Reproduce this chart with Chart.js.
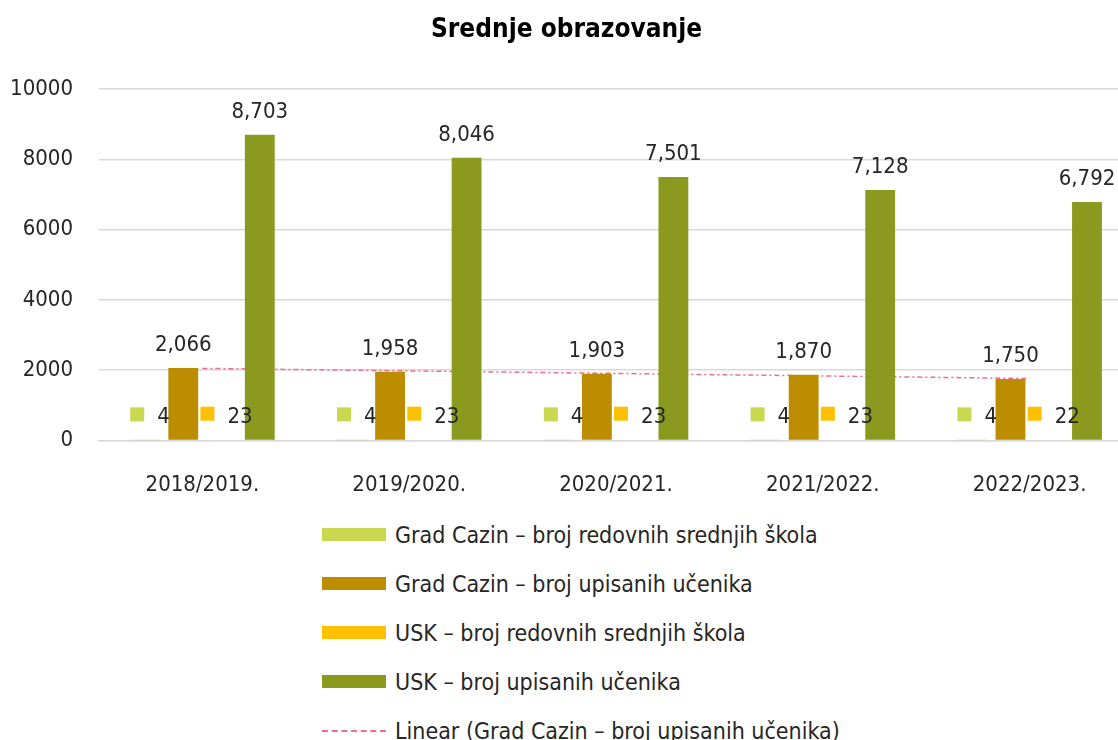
<!DOCTYPE html>
<html lang="bs">
<head>
  <meta charset="UTF-8">
  <title>Srednje obrazovanje</title>
  <script src="https://cdn.jsdelivr.net/npm/chart.js"></script>
  <style>
    body {
      margin: 0;
      background: #fff;
      overflow: hidden;
      font-family: "DejaVu Sans Condensed", "Liberation Sans Narrow", Roboto, sans-serif;
    }
    #chartBox {
      position: absolute;
      left: 0;
      top: 0;
      width: 1133px;
      height: 500px;
    }
    #legend {
      position: absolute;
      left: 322px;
      top: 510px;
      color: #262626;
      font-size: 23px;
    }
    .row {
      height: 49px;
      display: flex;
      align-items: center;
    }
    .key {
      width: 64px;
      height: 13px;
      margin-right: 9px;
    }
    .key.dash {
      height: 0;
      border-top: 2px dashed #ef6d8e;
    }
  </style>
</head>
<body>
  <div id="chartBox">
    <canvas id="chart" width="1133" height="500"></canvas>
  </div>
  <div id="legend"></div>

  <script>
    const FONT = '"DejaVu Sans Condensed", "Liberation Sans Narrow", Roboto, sans-serif';

    // Data
    const years = ['2018/2019.', '2019/2020.', '2020/2021.', '2021/2022.', '2022/2023.'];
    const cazinSchools = [4, 4, 4, 4, 4];
    const cazinPupils = [2066, 1958, 1903, 1870, 1750];
    const uskSchools = [23, 23, 23, 23, 22];
    const uskPupils = [8703, 8046, 7501, 7128, 6792];
    // Linear trend of Cazin pupils
    const cazinTrend = [2053, 1981, 1909, 1837, 1765];
    const yTicks = [0, 2000, 4000, 6000, 8000, 10000];

    const colors = {
      cazinSchools: '#c9d84f',
      cazinPupils: '#bd8d00',
      uskSchools: '#ffc000',
      uskPupils: '#8b9a1e',
      trend: '#ef6d8e'
    };

    // value labels above bars; the small series get a little colour key in front
    const barLabels = {
      id: 'barLabels',
      afterDatasetsDraw(chart) {
        const ctx = chart.ctx;
        ctx.save();
        ctx.font = '22px ' + FONT;
        ctx.fillStyle = '#262626';
        ctx.textBaseline = 'alphabetic';
        chart.data.datasets.forEach((ds, i) => {
          if (ds.type === 'line') return;
          const meta = chart.getDatasetMeta(i);
          meta.data.forEach((bar, j) => {
            const txt = ds.data[j].toLocaleString('en-US');
            const y = bar.y - 17;
            if (ds.withKey) {
              const w = ctx.measureText(txt).width;
              const group = 14 + 13 + w;
              const x0 = bar.x + 5 - group / 2;
              ctx.fillStyle = ds.backgroundColor;
              ctx.fillRect(x0, y - 16, 14, 14);
              ctx.fillStyle = '#262626';
              ctx.textAlign = 'left';
              ctx.fillText(txt, x0 + 27, y);
            } else {
              ctx.textAlign = 'center';
              ctx.fillText(txt, bar.x, y);
            }
          });
        });
        ctx.restore();
      }
    };

    const chart = new Chart(document.getElementById('chart'), {
      type: 'bar',
      data: {
        labels: years,
        datasets: [
          { label: 'Grad Cazin – broj redovnih srednjih škola', data: cazinSchools,
            backgroundColor: colors.cazinSchools, withKey: true, order: 0 },
          { label: 'Grad Cazin – broj upisanih učenika', data: cazinPupils,
            backgroundColor: colors.cazinPupils, order: 0 },
          { label: 'USK – broj redovnih srednjih škola', data: uskSchools,
            backgroundColor: colors.uskSchools, withKey: true, order: 0 },
          { label: 'USK – broj upisanih učenika', data: uskPupils,
            backgroundColor: colors.uskPupils, order: 0 },
          { type: 'line', label: 'Linear (Grad Cazin – broj upisanih učenika)', data: cazinTrend,
            borderColor: colors.trend, borderWidth: 1.5, borderDash: [5, 3, 2, 3],
            pointRadius: 0, fill: false, tension: 0, order: 1 }
        ]
      },
      options: {
        responsive: false,
        animation: false,
        layout: { padding: 0 },
        datasets: {
          bar: { categoryPercentage: 0.74, barPercentage: 0.78 }
        },
        plugins: {
          legend: { display: false },
          tooltip: { enabled: false },
          title: {
            display: true,
            text: 'Srednje obrazovanje',
            color: '#000',
            font: { family: FONT, size: 26, weight: 'bold' },
            padding: { top: 15, bottom: 43 }
          }
        },
        scales: {
          x: {
            grid: { display: false },
            border: { display: true, color: '#d9d9d9', width: 1.5 },
            ticks: { color: '#262626', font: { family: FONT, size: 22 }, padding: 24 },
            afterFit(scale) { scale.height = 59.5; }
          },
          y: {
            min: 0,
            max: 10000,
            afterBuildTicks(scale) { scale.ticks = yTicks.map(v => ({ value: v })); },
            grid: { color: '#d9d9d9', lineWidth: 1.5, drawTicks: false },
            border: { display: false },
            ticks: { color: '#262626', font: { family: FONT, size: 22 }, padding: 26,
                     callback: v => String(v) },
            afterFit(scale) { scale.width = 99; }
          }
        }
      },
      plugins: [barLabels]
    });

    // vertical legend below the chart, built from the datasets
    const legend = document.getElementById('legend');
    chart.data.datasets.forEach(ds => {
      const row = document.createElement('div');
      row.className = 'row';
      const key = document.createElement('span');
      key.className = ds.type === 'line' ? 'key dash' : 'key';
      if (ds.type !== 'line') key.style.background = ds.backgroundColor;
      const txt = document.createElement('span');
      txt.textContent = ds.label;
      row.appendChild(key);
      row.appendChild(txt);
      legend.appendChild(row);
    });
  </script>
</body>
</html>
